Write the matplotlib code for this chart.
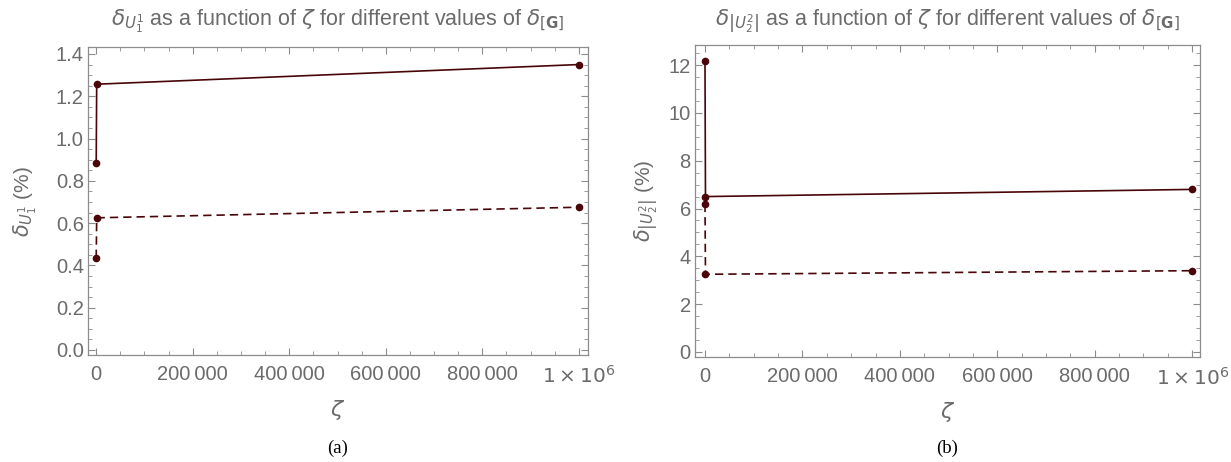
import numpy as np
import matplotlib
matplotlib.use('Agg')
import matplotlib.pyplot as plt
from matplotlib.ticker import MultipleLocator, FuncFormatter


# zeta values of the computed points (first two sit next to zero)
zeta = [1, 1000, 1000000]

# panel (a): delta_U1 in %
u1_solid = [0.885, 1.257, 1.35]
u1_dashed = [0.435, 0.625, 0.675]

# panel (b): delta_|U2| in %
u2_solid = [12.17, 6.5, 6.8]
u2_dashed = [6.2, 3.25, 3.4]

line_col = '#4a0508'
axis_col = '#8c8c8c'
text_col = '#6b6b6b'

plt.rcParams.update({'font.family': ['Liberation Sans', 'DejaVu Sans'],
                     'font.size': 14,
                     'mathtext.fontset': 'dejavusans'})


def zeta_fmt(v, pos):
    if abs(v - 1e6) < 1:
        return r'$1\times10^{6}$'
    s = '{:,}'.format(int(round(v)))
    return s.replace(',', '\u2009')


def style_axes(ax, ymajor, yminor):
    ax.xaxis.set_major_locator(MultipleLocator(200000))
    ax.xaxis.set_minor_locator(MultipleLocator(50000))
    ax.xaxis.set_major_formatter(FuncFormatter(zeta_fmt))
    ax.yaxis.set_major_locator(MultipleLocator(ymajor))
    ax.yaxis.set_minor_locator(MultipleLocator(yminor))
    ax.tick_params(which='both', direction='in', top=True, right=True,
                   color=axis_col, labelcolor=text_col, labelsize=14.5)
    ax.tick_params(axis='x', pad=7)
    ax.tick_params(axis='y', pad=3)
    ax.tick_params(which='major', length=5, width=0.8)
    ax.tick_params(which='minor', length=3, width=0.6)
    for sp in ax.spines.values():
        sp.set_color(axis_col)
        sp.set_linewidth(0.9)
    ax.set_xlabel(r'$\zeta$', color=text_col, fontsize=16, labelpad=8)


def draw(ax, solid, dashed):
    ax.plot(zeta, solid, color=line_col, linewidth=1.2, marker='o', markersize=4.5)
    ax.plot(zeta, dashed, color=line_col, linewidth=1.2, linestyle=(0, (5, 3)),
            marker='o', markersize=4.5)


W, H = 1231, 462
fig = plt.figure(figsize=(W / 100, H / 100), dpi=100)

ax1 = fig.add_axes([88 / W, (H - 355) / H, 500 / W, 308 / H])
draw(ax1, u1_solid, u1_dashed)
style_axes(ax1, 0.2, 0.05)
ax1.yaxis.set_major_formatter(FuncFormatter(lambda v, p: '{:.1f}'.format(v)))
ax1.set_xlim(-17000, 1019000)
ax1.set_ylim(-0.024, 1.433)
ax1.set_ylabel(r'$\delta_{U_1^1}$ (%)', color=text_col, fontsize=15, labelpad=12)

ax2 = fig.add_axes([695 / W, (H - 357) / H, 505 / W, 312 / H])
draw(ax2, u2_solid, u2_dashed)
style_axes(ax2, 2, 0.5)
ax2.set_xlim(-20500, 1016000)
ax2.set_ylim(-0.21, 12.84)
ax2.set_ylabel(r'$\delta_{\left|U_2^2\right|}$ (%)', color=text_col, fontsize=15, labelpad=6)

fig.text(338 / W, 1 - 21 / H,
         r'$\delta_{U_1^1}$ as a function of $\zeta$ for different values of $\delta_{[\mathbf{G}]}$',
         color=text_col, fontsize=15.5, ha='center', va='center')
fig.text(947 / W, 1 - 21 / H,
         r'$\delta_{\left|U_2^2\right|}$ as a function of $\zeta$ for different values of $\delta_{[\mathbf{G}]}$',
         color=text_col, fontsize=15.5, ha='center', va='center')

fig.text(338 / W, 1 - 448 / H, '(a)', family='Liberation Serif', fontsize=13.5,
         ha='center', va='center', color='black')
fig.text(947 / W, 1 - 448 / H, '(b)', family='Liberation Serif', fontsize=13.5,
         ha='center', va='center', color='black')

fig.savefig('out.png', dpi=100)
